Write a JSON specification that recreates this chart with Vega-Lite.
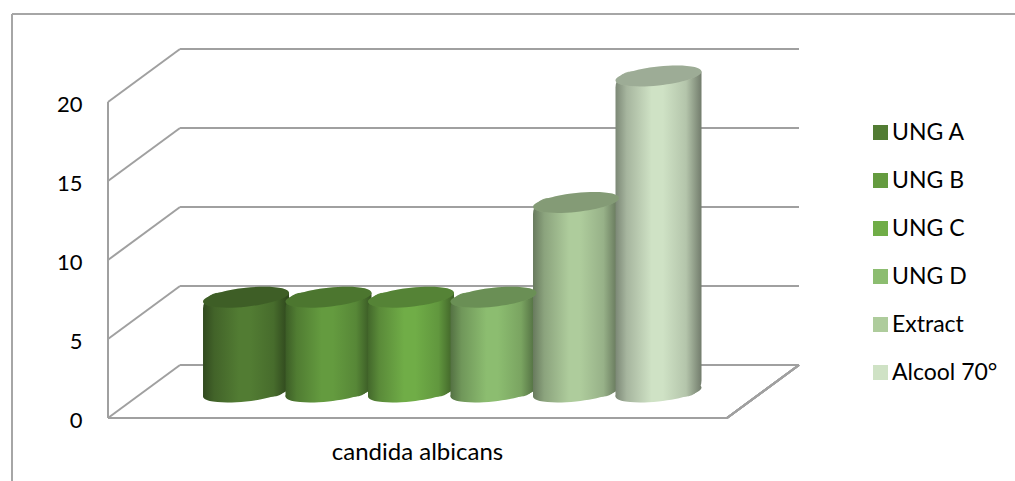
{"$schema":"https://vega.github.io/schema/vega-lite/v6.json","width":691,"height":370,"autosize":{"type":"none"},"padding":{"left":108,"top":48,"right":216,"bottom":63},"background":"white",
"config":{"view":{"stroke":null},"font":"Lato","axisX":{"titleFont":"Lato","titleFontSize":24,"titleFontWeight":"normal","titleColor":"#000","titleX":309,"titleY":34,"titleBaseline":"middle","labels":false,"ticks":false,"domain":false,"grid":false},"axisY":{"tickCount":5,"labelFont":"Lato","labelFontSize":22,"labelColor":"#000","labelPadding":26,"labelOffset":2,"domain":false,"ticks":false,"grid":false}},
"datasets":{"ticks":[{"tick":0},{"tick":5},{"tick":10},{"tick":15},{"tick":20}]},
"data":{"values":[{"series":"UNG A","idx":1,"value":6},{"series":"UNG B","idx":2,"value":6},{"series":"UNG C","idx":3,"value":6},{"series":"UNG D","idx":4,"value":6},{"series":"Extract","idx":5,"value":12},{"series":"Alcool 70°","idx":6,"value":20}]},
"layer":[
{"mark":{"type":"rule","color":"#a6a6a6","strokeWidth":1.5},"encoding":{"x":{"datum":-1.836,"type":"quantitative","title":"candida albicans","scale":{"domain":[-0.673,7.703],"nice":false,"zero":false,"padding":0}},"y":{"datum":25.57,"type":"quantitative","title":null,"scale":{"domain":[0,23.42],"nice":false,"zero":false}},"y2":{"datum":-3.99}}},
{"mark":{"type":"rule","color":"#a6a6a6","strokeWidth":1.5},"encoding":{"x":{"datum":-1.836,"type":"quantitative","title":"candida albicans","scale":{"domain":[-0.673,7.703],"nice":false,"zero":false,"padding":0}},"x2":{"datum":10.32},"y":{"datum":25.57,"type":"quantitative","title":null,"scale":{"domain":[0,23.42],"nice":false,"zero":false}}}},
{"data":{"name":"ticks"},"mark":{"type":"rule","color":"#a0a0a0","strokeWidth":2,"yOffset":-53},"encoding":{"x":{"datum":0.2,"type":"quantitative","title":"candida albicans","scale":{"domain":[-0.673,7.703],"nice":false,"zero":false,"padding":0}},"x2":{"datum":7.703},"y":{"field":"tick","type":"quantitative","title":null,"scale":{"domain":[0,23.42],"nice":false,"zero":false}}}},
{"data":{"name":"ticks"},"mark":{"type":"rule","color":"#a0a0a0","strokeWidth":2,"y2Offset":-53},"encoding":{"x":{"datum":-0.673,"type":"quantitative","title":"candida albicans","scale":{"domain":[-0.673,7.703],"nice":false,"zero":false,"padding":0}},"x2":{"datum":0.2},"y":{"field":"tick","type":"quantitative","title":null,"scale":{"domain":[0,23.42],"nice":false,"zero":false}},"y2":{"field":"tick"}}},
{"mark":{"type":"rule","color":"#a0a0a0","strokeWidth":2,"y2Offset":-53},"encoding":{"x":{"datum":6.83,"type":"quantitative","title":"candida albicans","scale":{"domain":[-0.673,7.703],"nice":false,"zero":false,"padding":0}},"x2":{"datum":7.703},"y":{"datum":0,"type":"quantitative","title":null,"scale":{"domain":[0,23.42],"nice":false,"zero":false}},"y2":{"datum":0}}},
{"mark":{"type":"rule","color":"#a0a0a0","strokeWidth":2},"encoding":{"x":{"datum":-0.673,"type":"quantitative","title":"candida albicans","scale":{"domain":[-0.673,7.703],"nice":false,"zero":false,"padding":0}},"x2":{"datum":6.83},"y":{"datum":0,"type":"quantitative","title":null,"scale":{"domain":[0,23.42],"nice":false,"zero":false}}}},
{"mark":{"type":"rule","color":"#a0a0a0","strokeWidth":2},"encoding":{"x":{"datum":-0.673,"type":"quantitative","title":"candida albicans","scale":{"domain":[-0.673,7.703],"nice":false,"zero":false,"padding":0}},"y":{"datum":0,"type":"quantitative","title":null,"scale":{"domain":[0,23.42],"nice":false,"zero":false}},"y2":{"datum":20}}},
{"mark":{"type":"point","filled":true,"opacity":1,"size":7396,"yOffset":-26,"shape":"M-1,0.105C-1,0.2265,-0.5523,0.278,0,0.22C0.5523,0.162,1,0.0165,1,-0.105C1,-0.2265,0.5523,-0.278,0,-0.22C-0.5523,-0.162,-1,-0.0165,-1,0.105Z"},"encoding":{"x":{"field":"idx","type":"quantitative","title":"candida albicans","scale":{"domain":[-0.673,7.703],"nice":false,"zero":false,"padding":0}},"y":{"datum":0,"type":"quantitative","title":null,"scale":{"domain":[0,23.42],"nice":false,"zero":false}},"color":{"field":"series","type":"nominal","scale":{"domain":["UNG A","UNG B","UNG C","UNG D","Extract","Alcool 70°"],"range":["#527c33","#649b3f","#70ad47","#8cbd70","#aecc9c","#cfe2c5"]},"legend":{"title":null,"orient":"none","legendX":761,"legendY":73,"symbolType":"square","symbolSize":225,"symbolStrokeWidth":0,"symbolOpacity":1,"labelFont":"Lato","labelFontSize":23,"labelColor":"#000","labelOffset":0,"rowPadding":24}}}},
{"mark":{"type":"point","filled":true,"opacity":1,"size":7396,"yOffset":-26,"shape":"M-1,0.105C-1,0.2265,-0.5523,0.278,0,0.22C0.5523,0.162,1,0.0165,1,-0.105C1,-0.2265,0.5523,-0.278,0,-0.22C-0.5523,-0.162,-1,-0.0165,-1,0.105Z","color":{"gradient":"linear","x1":0,"x2":1,"y1":0,"y2":0,"stops":[{"offset":0,"color":"rgba(0,0,0,0.4)"},{"offset":0.13,"color":"rgba(0,0,0,0.2)"},{"offset":0.42,"color":"rgba(0,0,0,0)"},{"offset":0.55,"color":"rgba(0,0,0,0)"},{"offset":0.82,"color":"rgba(0,0,0,0.13)"},{"offset":1,"color":"rgba(0,0,0,0.45)"}]}},"encoding":{"x":{"field":"idx","type":"quantitative","title":"candida albicans","scale":{"domain":[-0.673,7.703],"nice":false,"zero":false,"padding":0}},"y":{"datum":0,"type":"quantitative","title":null,"scale":{"domain":[0,23.42],"nice":false,"zero":false}}}},
{"transform":[{"filter":"datum.idx==1"}],"mark":{"type":"bar","orient":"vertical","width":86,"yOffset":-30.5,"y2Offset":-21.5,"cornerRadiusTopLeft":16,"cornerRadiusBottomRight":16,"color":{"gradient":"linear","x1":0,"x2":1,"y1":0,"y2":0,"stops":[{"offset":0,"color":"#314a1f"},{"offset":0.13,"color":"#426329"},{"offset":0.42,"color":"#527c33"},{"offset":0.55,"color":"#527c33"},{"offset":0.82,"color":"#476c2c"},{"offset":1,"color":"#2d441c"}]}},"encoding":{"x":{"field":"idx","type":"quantitative","title":"candida albicans","scale":{"domain":[-0.673,7.703],"nice":false,"zero":false,"padding":0}},"y":{"field":"value","type":"quantitative","title":null,"scale":{"domain":[0,23.42],"nice":false,"zero":false}},"y2":{"datum":0}}},
{"transform":[{"filter":"datum.idx==2"}],"mark":{"type":"bar","orient":"vertical","width":86,"yOffset":-30.5,"y2Offset":-21.5,"cornerRadiusTopLeft":16,"cornerRadiusBottomRight":16,"color":{"gradient":"linear","x1":0,"x2":1,"y1":0,"y2":0,"stops":[{"offset":0,"color":"#3c5d26"},{"offset":0.13,"color":"#507c32"},{"offset":0.42,"color":"#649b3f"},{"offset":0.55,"color":"#649b3f"},{"offset":0.82,"color":"#578737"},{"offset":1,"color":"#375523"}]}},"encoding":{"x":{"field":"idx","type":"quantitative","title":"candida albicans","scale":{"domain":[-0.673,7.703],"nice":false,"zero":false,"padding":0}},"y":{"field":"value","type":"quantitative","title":null,"scale":{"domain":[0,23.42],"nice":false,"zero":false}},"y2":{"datum":0}}},
{"transform":[{"filter":"datum.idx==3"}],"mark":{"type":"bar","orient":"vertical","width":86,"yOffset":-30.5,"y2Offset":-21.5,"cornerRadiusTopLeft":16,"cornerRadiusBottomRight":16,"color":{"gradient":"linear","x1":0,"x2":1,"y1":0,"y2":0,"stops":[{"offset":0,"color":"#43682b"},{"offset":0.13,"color":"#5a8a39"},{"offset":0.42,"color":"#70ad47"},{"offset":0.55,"color":"#70ad47"},{"offset":0.82,"color":"#61973e"},{"offset":1,"color":"#3e5f27"}]}},"encoding":{"x":{"field":"idx","type":"quantitative","title":"candida albicans","scale":{"domain":[-0.673,7.703],"nice":false,"zero":false,"padding":0}},"y":{"field":"value","type":"quantitative","title":null,"scale":{"domain":[0,23.42],"nice":false,"zero":false}},"y2":{"datum":0}}},
{"transform":[{"filter":"datum.idx==4"}],"mark":{"type":"bar","orient":"vertical","width":86,"yOffset":-30.5,"y2Offset":-21.5,"cornerRadiusTopLeft":16,"cornerRadiusBottomRight":16,"color":{"gradient":"linear","x1":0,"x2":1,"y1":0,"y2":0,"stops":[{"offset":0,"color":"#547143"},{"offset":0.13,"color":"#70975a"},{"offset":0.42,"color":"#8cbd70"},{"offset":0.55,"color":"#8cbd70"},{"offset":0.82,"color":"#7aa461"},{"offset":1,"color":"#4d683e"}]}},"encoding":{"x":{"field":"idx","type":"quantitative","title":"candida albicans","scale":{"domain":[-0.673,7.703],"nice":false,"zero":false,"padding":0}},"y":{"field":"value","type":"quantitative","title":null,"scale":{"domain":[0,23.42],"nice":false,"zero":false}},"y2":{"datum":0}}},
{"transform":[{"filter":"datum.idx==5"}],"mark":{"type":"bar","orient":"vertical","width":86,"yOffset":-30.5,"y2Offset":-21.5,"cornerRadiusTopLeft":16,"cornerRadiusBottomRight":16,"color":{"gradient":"linear","x1":0,"x2":1,"y1":0,"y2":0,"stops":[{"offset":0,"color":"#687a5e"},{"offset":0.13,"color":"#8ba37d"},{"offset":0.42,"color":"#aecc9c"},{"offset":0.55,"color":"#aecc9c"},{"offset":0.82,"color":"#97b188"},{"offset":1,"color":"#607056"}]}},"encoding":{"x":{"field":"idx","type":"quantitative","title":"candida albicans","scale":{"domain":[-0.673,7.703],"nice":false,"zero":false,"padding":0}},"y":{"field":"value","type":"quantitative","title":null,"scale":{"domain":[0,23.42],"nice":false,"zero":false}},"y2":{"datum":0}}},
{"transform":[{"filter":"datum.idx==6"}],"mark":{"type":"bar","orient":"vertical","width":86,"yOffset":-30.5,"y2Offset":-21.5,"cornerRadiusTopLeft":16,"cornerRadiusBottomRight":16,"color":{"gradient":"linear","x1":0,"x2":1,"y1":0,"y2":0,"stops":[{"offset":0,"color":"#7c8876"},{"offset":0.13,"color":"#a6b59e"},{"offset":0.42,"color":"#cfe2c5"},{"offset":0.55,"color":"#cfe2c5"},{"offset":0.82,"color":"#b4c5ab"},{"offset":1,"color":"#727c6c"}]}},"encoding":{"x":{"field":"idx","type":"quantitative","title":"candida albicans","scale":{"domain":[-0.673,7.703],"nice":false,"zero":false,"padding":0}},"y":{"field":"value","type":"quantitative","title":null,"scale":{"domain":[0,23.42],"nice":false,"zero":false}},"y2":{"datum":0}}},
{"mark":{"type":"point","filled":true,"opacity":1,"size":7396,"yOffset":-26,"shape":"M-1,0.105C-1,0.2265,-0.5523,0.278,0,0.22C0.5523,0.162,1,0.0165,1,-0.105C1,-0.2265,0.5523,-0.278,0,-0.22C-0.5523,-0.162,-1,-0.0165,-1,0.105Z"},"encoding":{"x":{"field":"idx","type":"quantitative","title":"candida albicans","scale":{"domain":[-0.673,7.703],"nice":false,"zero":false,"padding":0}},"y":{"field":"value","type":"quantitative","title":null,"scale":{"domain":[0,23.42],"nice":false,"zero":false}},"color":{"field":"series","type":"nominal","scale":{"domain":["UNG A","UNG B","UNG C","UNG D","Extract","Alcool 70°"],"range":["#527c33","#649b3f","#70ad47","#8cbd70","#aecc9c","#cfe2c5"]},"legend":{"title":null,"orient":"none","legendX":761,"legendY":73,"symbolType":"square","symbolSize":225,"symbolStrokeWidth":0,"symbolOpacity":1,"labelFont":"Lato","labelFontSize":23,"labelColor":"#000","labelOffset":0,"rowPadding":24}}}},
{"mark":{"type":"point","filled":true,"opacity":0.24,"color":"#000","size":7396,"yOffset":-26,"shape":"M-1,0.105C-1,0.2265,-0.5523,0.278,0,0.22C0.5523,0.162,1,0.0165,1,-0.105C1,-0.2265,0.5523,-0.278,0,-0.22C-0.5523,-0.162,-1,-0.0165,-1,0.105Z"},"encoding":{"x":{"field":"idx","type":"quantitative","title":"candida albicans","scale":{"domain":[-0.673,7.703],"nice":false,"zero":false,"padding":0}},"y":{"field":"value","type":"quantitative","title":null,"scale":{"domain":[0,23.42],"nice":false,"zero":false}}}}
]}
